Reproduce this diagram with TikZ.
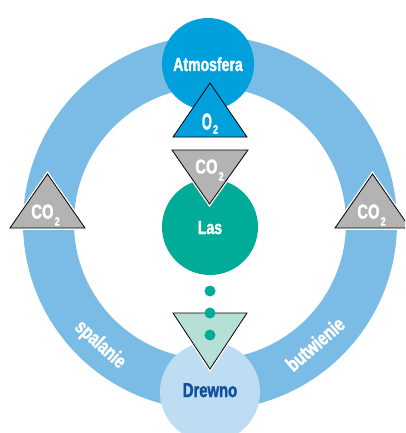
\documentclass[tikz,border=0pt]{standalone}
\usepackage{fontspec}
\newfontfamily\cond[FakeStretch=0.74,FakeBold=1.6]{Liberation Sans Bold}
\newcommand{\subsc}[2]{\kern1.2pt\raisebox{#1}{\fontsize{12}{12}\selectfont #2}}
\definecolor{ringblue}{HTML}{7BBCE6}
\definecolor{atmo}{HTML}{00A0DC}
\definecolor{lasgreen}{HTML}{00AC98}
\definecolor{drewno}{HTML}{BEDCF2}
\definecolor{cogrey}{HTML}{B3B3B3}
\definecolor{lightteal}{HTML}{B6DFD6}
\definecolor{drewtext}{HTML}{10509C}
\begin{document}
\begin{tikzpicture}[x=1pt,y=-1pt,
  tri/.style={fill=#1, draw=black, line width=0.8pt},
  halotri/.style={tri=#1, preaction={draw=white, line width=3.5pt}},
  lbl/.style={font=\cond\fontsize{19}{19}\selectfont, text=white, anchor=base, inner sep=0pt},
  formula/.style={font=\cond\fontsize{20}{20}\selectfont, text=white, anchor=base, inner sep=0pt},
  ringlbl/.style={font=\cond\fontsize{20.5}{20.5}\selectfont, text=white, anchor=center, inner sep=0pt},
  dot/.style={fill=lasgreen}
]
\clip (0,0) rectangle (405,433);
\useasboundingbox (0,0) rectangle (405,433);

% ring
\draw[ringblue, line width=51pt] (210,223) circle[radius=161.5pt];

% circles
\fill[atmo] (208,64) circle[radius=46pt];
\fill[lasgreen] (210,227) circle[radius=48pt];
\fill[drewno] (210,392) circle[radius=50pt];

% triangles
\path[tri=atmo] (210,83) -- (247,137) -- (173,137) -- cycle;
\path[halotri=cogrey] (172,150) -- (248,150) -- (209.5,204) -- cycle;
\path[halotri=cogrey] (47.5,174) -- (85,228) -- (10,228) -- cycle;
\path[halotri=cogrey] (372.5,174) -- (410,228) -- (335,228) -- cycle;
\path[halotri=lightteal] (173,313) -- (247,313) -- (210,369) -- cycle;

% dots
\fill[dot] (210,291) circle[radius=5.5pt];
\fill[dot] (210,313) circle[radius=5.5pt];
\fill[dot] (210,335) circle[radius=5.5pt];

% labels
\node[lbl] (atmosfera) at (208,71) {Atmosfera};
\node[lbl] (las) at (210,234) {Las};
\node[lbl, text=drewtext, font=\cond\fontsize{20}{20}\selectfont] (drewnolbl) at (210,397) {Drewno};
\node[formula, font=\cond\fontsize{23}{23}\selectfont] (o2) at (210,129.5) {\scalebox{0.75}[1]{O}\subsc{-4pt}{2}};
\node[formula] (co2top) at (209.5,173.5) {CO\subsc{-7pt}{2}};
\node[formula] (co2left) at (45.5,218.5) {CO\subsc{-7pt}{2}};
\node[formula] (co2right) at (371.5,218.5) {CO\subsc{-7pt}{2}};
\node[ringlbl, rotate=-42] (spalanie) at (100,345) {spalanie};
\node[ringlbl, rotate=41] (butwienie) at (315,344) {butwienie};
\end{tikzpicture}
\end{document}
